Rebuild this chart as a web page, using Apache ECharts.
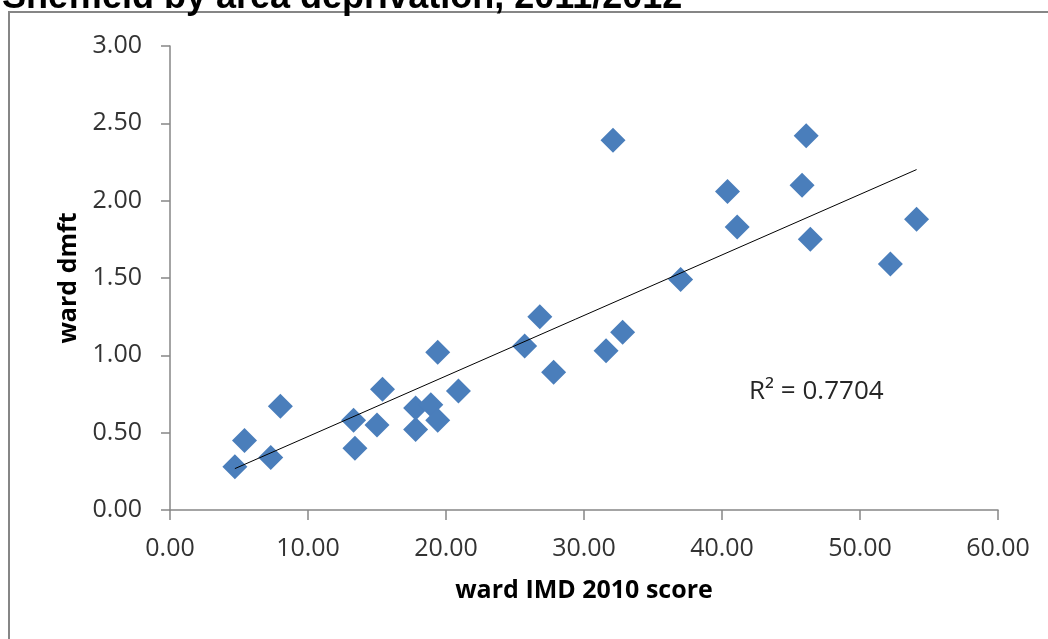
<!DOCTYPE html>
<html>
<head>
<meta charset="utf-8">
<script src="https://cdn.jsdelivr.net/npm/echarts@6/dist/echarts.min.js"></script>
<style>
  html, body { margin: 0; padding: 0; background: #fff; }
  #chart { width: 1048px; height: 639px; }
</style>
</head>
<body>
<div id="chart"></div>
<script>
// ward deprivation score vs ward dmft
const imdScores = [4.7, 5.4, 7.3, 8.0, 13.3, 13.4, 15.0, 15.4, 17.8, 17.8, 18.9, 19.4, 19.4, 20.9,
  25.7, 26.8, 27.8, 31.6, 32.1, 32.8, 37.0, 40.4, 41.1, 45.8, 46.1, 46.4, 52.2, 54.1]
const dmftValues = [0.28, 0.45, 0.34, 0.67, 0.58, 0.40, 0.55, 0.78, 0.52, 0.66, 0.68, 0.58, 1.02, 0.77,
  1.06, 1.25, 0.89, 1.03, 2.39, 1.15, 1.49, 2.06, 1.83, 2.10, 2.42, 1.75, 1.59, 1.88]
const xTicks = [0, 10, 20, 30, 40, 50, 60]
const yTicks = [0, 0.5, 1, 1.5, 2, 2.5, 3]
const r2Label = 'R² = 0.7704'

// linear trendline (least squares) from the points
const n = imdScores.length
const mx = imdScores.reduce((a, b) => a + b, 0) / n
const my = dmftValues.reduce((a, b) => a + b, 0) / n
let sxy = 0, sxx = 0
imdScores.forEach((x, i) => {
  sxy += (x - mx) * (dmftValues[i] - my)
  sxx += (x - mx) * (x - mx)
})
const slope = sxy / sxx
const intercept = my - slope * mx
const xMin = Math.min(...imdScores)
const xMax = Math.max(...imdScores)
const trend = [[xMin, intercept + slope * xMin], [xMax, intercept + slope * xMax]]

const chart = echarts.init(document.getElementById('chart'))

const labelFont = '"Open Sans", sans-serif'

chart.setOption({
  animation: false,
  backgroundColor: '#fff',
  grid: { left: 170, right: 50, top: 46, bottom: 129 },
  xAxis: {
    type: 'value',
    min: xTicks[0],
    max: xTicks[xTicks.length - 1],
    interval: xTicks[1] - xTicks[0],
    name: 'ward IMD 2010 score',
    nameLocation: 'middle',
    nameGap: 68,
    nameTextStyle: { fontFamily: labelFont, fontWeight: 'bold', fontSize: 25, color: '#000' },
    axisLine: { lineStyle: { color: '#868686', width: 1.5 } },
    axisTick: { show: true, length: 10, inside: false, lineStyle: { color: '#868686', width: 1.5 } },
    splitLine: { show: false },
    axisLabel: {
      margin: 26,
      fontFamily: labelFont,
      fontSize: 25,
      color: '#333',
      formatter: v => v.toFixed(2)
    }
  },
  yAxis: {
    type: 'value',
    min: yTicks[0],
    max: yTicks[yTicks.length - 1],
    interval: yTicks[1] - yTicks[0],
    name: 'ward dmft',
    nameLocation: 'middle',
    nameGap: 88,
    nameTextStyle: { fontFamily: labelFont, fontWeight: 'bold', fontSize: 25, color: '#000' },
    axisLine: { show: true, lineStyle: { color: '#868686', width: 1.5 } },
    axisTick: { show: true, length: 9, lineStyle: { color: '#868686', width: 1.5 } },
    splitLine: { show: false },
    axisLabel: {
      margin: 28,
      fontFamily: labelFont,
      fontSize: 25,
      color: '#333',
      formatter: v => v.toFixed(2)
    }
  },
  series: [
    {
      name: 'ward dmft',
      type: 'scatter',
      symbol: 'diamond',
      symbolSize: [25, 25],
      itemStyle: { color: '#4a7ebb', opacity: 1 },
      data: imdScores.map((x, i) => [x, dmftValues[i]]),
      z: 2
    },
    {
      name: 'trend',
      type: 'line',
      data: trend,
      symbol: 'none',
      lineStyle: { color: '#000', width: 1 },
      z: 3
    }
  ],
  graphic: [
    {
      type: 'rect',
      shape: { x: 9, y: 12, width: 1060, height: 700 },
      style: { fill: 'none', stroke: '#868686', lineWidth: 2 },
      silent: true
    },
    {
      type: 'text',
      x: 2,
      y: -20,
      style: {
        text: 'Sheffield by area deprivation, 2011/2012',
        font: 'bold 36px "Liberation Sans", Arial, sans-serif',
        fill: '#000'
      }
    },
    {
      type: 'text',
      x: 749,
      y: 392,
      style: {
        text: r2Label,
        font: '26px "Open Sans", sans-serif',
        fill: '#262626',
        textVerticalAlign: 'middle'
      }
    }
  ]
})
</script>
</body>
</html>
